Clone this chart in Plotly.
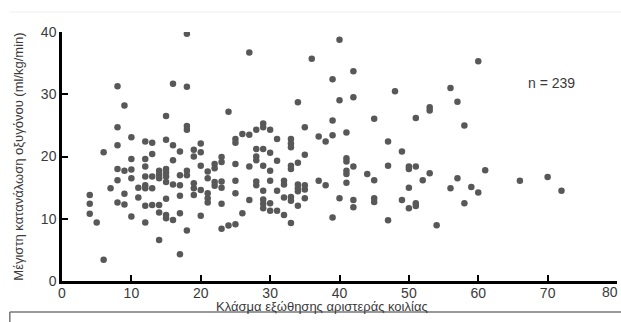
import plotly.graph_objects as go

# Ejection fraction (x) and peak oxygen consumption (y)
ef_values = (
    [4]*3 + [5] + [6]*2 + [7] + [8]*6 + [9]*4 + [10]*5 + [11]*2 + [12]*8 + [13]*5 +
    [14]*6 + [15]*9 + [16]*5 + [17]*6 + [18]*7 + [19]*5 + [20]*5 + [21]*5 + [22]*4 +
    [23]*6 + [24]*2 + [25]*6 + [26]*2 + [27]*4 + [28]*6 + [29]*8 + [30]*6 + [31]*4 +
    [32]*4 + [33]*8 + [34]*6 + [35]*5 + [36] + [37]*2 + [38]*2 + [39]*4 + [40]*3 +
    [41]*6 + [42]*5 + [44] + [45]*4 + [47]*3 + [48] + [49]*2 + [50]*4 + [51]*4 +
    [52] + [53]*3 + [54] + [56]*2 + [57]*2 + [58]*2 + [59] + [60]*2 + [61] + [66] +
    [70] + [72]
)

vo2_values = [
    13.8, 12.4, 10.8,
    9.4,
    20.7, 3.4,
    14.9,
    31.3, 24.7, 21.8, 18.0, 16.2, 12.6,
    28.2, 17.7, 14.0, 12.3,
    23.1, 19.6, 17.9, 16.5, 10.35,
    15.0, 13.4,
    22.4, 19.6, 18.4, 16.8, 15.4, 14.9, 12.1, 9.4,
    22.2, 20.4, 16.8, 14.9, 12.2,
    17.7, 17.1, 16.5, 12.2, 11.0, 6.6,
    26.5, 22.7, 18.0, 17.4, 16.8, 15.9, 13.2, 10.6, 10.1,
    31.7, 21.8, 19.4, 15.5, 9.8,
    20.8, 17.0, 15.4, 13.7, 10.9, 4.3,
    39.7, 31.2, 24.9, 24.3, 17.7, 17.0, 8.1,
    21.1, 20.0, 15.7, 14.9, 13.8,
    22.1, 20.7, 18.5, 14.6, 10.5,
    17.6, 16.5, 14.1, 13.3, 12.6,
    18.8, 18.1, 15.9, 15.3,
    19.9, 19.1, 16.0, 15.0, 12.4, 8.4,
    27.2, 8.9,
    22.8, 22.2, 18.8, 16.1, 14.1, 9.1,
    23.6, 10.9,
    36.7, 23.5, 18.4, 13.0,
    24.3, 21.2, 20.0, 19.4, 16.0, 15.4,
    25.3, 24.7, 21.2, 18.5, 14.5, 13.1, 12.4, 11.7,
    24.3, 20.6, 17.7, 16.1, 12.5, 11.3,
    22.8, 19.3, 14.5, 11.3,
    16.1, 15.5, 13.4, 10.6,
    22.8, 22.1, 21.5, 18.5, 18.0, 13.5, 12.9, 9.3,
    28.7, 19.0, 15.5, 14.9, 14.4, 12.1,
    24.7, 20.3, 15.4, 14.7, 13.3,
    35.7,
    23.2, 16.1,
    22.4, 15.4,
    32.4, 25.8, 23.4, 10.2,
    38.75, 29.05, 13.3,
    23.85, 19.7, 19.2, 17.7, 17.2, 15.8,
    33.7, 29.5, 18.4, 13.0, 11.85,
    17.2,
    26.05, 16.2, 13.3, 12.7,
    22.4, 18.5, 9.75,
    30.5,
    20.8, 13.0,
    18.4, 18.0, 15.0, 11.7,
    26.2, 18.4, 12.5, 12.05,
    16.2,
    27.9, 27.4, 17.3,
    8.95,
    31.0, 14.9,
    28.8, 16.5,
    25.0, 12.5,
    15.1,
    35.3, 14.2,
    17.8,
    16.1,
    16.7,
    14.5,
]

x_ticks = [0, 10, 20, 30, 40, 50, 60, 70, 80]
x_tick_labels = ["0", "10", "20", "30", "40", "50", "60", "70", ""]  # last one drawn as a note so it is not clipped
last_x_label = "80"
y_ticks = [0, 10, 20, 30, 40]
x_title = "Κλάσμα εξώθησης αριστεράς κοιλίας"
y_title = "Μέγιστη κατανάλωση οξυγόνου (ml/kg/min)"
n_label = "n = 239"

FONT = "Liberation Sans, Arial, sans-serif"
TXT = "#3a3a3a"

fig = go.Figure(
    go.Scatter(
        x=ef_values,
        y=vo2_values,
        mode="markers",
        marker=dict(size=6.5, color="#585858"),
        hoverinfo="x+y",
    )
)

axis_common = dict(
    showline=True,
    linecolor="black",
    linewidth=2.5,
    ticks="inside",
    ticklen=6,
    tickwidth=2,
    tickcolor="black",
    showgrid=False,
    zeroline=False,
    tickfont=dict(family=FONT, size=14, color=TXT),
    ticklabeloverflow="allow",
    automargin=False,
    fixedrange=True,
)

fig.update_layout(
    width=621,
    height=322,
    autosize=False,
    margin=dict(l=62, r=4, t=32, b=41, autoexpand=False),
    paper_bgcolor="white",
    plot_bgcolor="white",
    showlegend=False,
    xaxis=dict(range=[0, 80], tickvals=x_ticks, ticktext=x_tick_labels,
               ticklabelstandoff=-3, **axis_common),
    yaxis=dict(range=[0, 40], tickvals=y_ticks, **axis_common),
    annotations=[
        dict(text=last_x_label, xref="paper", yref="paper", x=1.0058, y=-0.044,
             xanchor="right", yanchor="middle", showarrow=False,
             font=dict(family=FONT, size=14, color=TXT)),
        dict(text=x_title, xref="paper", yref="paper", x=0.4685, y=-0.102,
             xanchor="center", yanchor="middle", showarrow=False,
             font=dict(family=FONT, size=13, color=TXT)),
        dict(text=y_title, xref="paper", yref="paper", x=-0.079, y=0.5,
             xanchor="center", yanchor="middle", showarrow=False, textangle=-90,
             font=dict(family=FONT, size=13, color=TXT)),
        dict(text=n_label, xref="x", yref="y", x=70.6, y=31.8,
             xanchor="center", yanchor="middle", showarrow=False,
             font=dict(family=FONT, size=14, color=TXT)),
    ],
    shapes=[
        dict(type="line", xref="paper", yref="paper", x0=-0.094, x1=1.01,
             y0=-0.1245, y1=-0.1245, line=dict(color="#777777", width=1.5)),
        dict(type="line", xref="paper", yref="paper", x0=-0.094, x1=-0.094,
             y0=-0.1245, y1=-0.2, line=dict(color="#777777", width=1.5)),
        dict(type="line", xref="paper", yref="paper", x0=-0.094, x1=1.01,
             y0=1.08, y1=1.08, line=dict(color="#eeeeee", width=1)),
    ],
)

fig.write_html(
    "out.html",
    config={"displayModeBar": False},
    post_script="document.body.style.margin='0';document.body.style.overflow='hidden';",
)
